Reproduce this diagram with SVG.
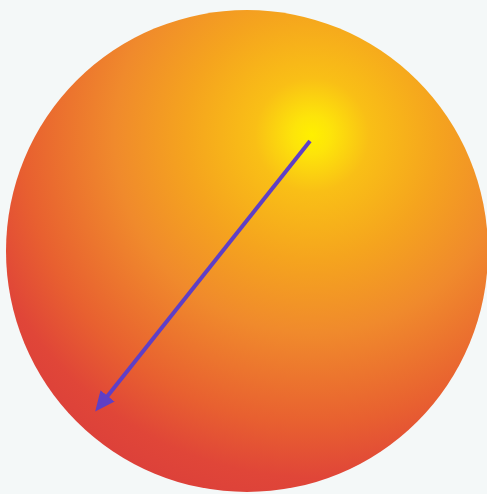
<svg xmlns="http://www.w3.org/2000/svg" width="487" height="494" viewBox="0 0 487 494">
  <defs>
    <radialGradient id="sphere" gradientUnits="userSpaceOnUse" cx="312" cy="135" r="380">
      <stop offset="0" stop-color="#fff000"/>
      <stop offset="0.05" stop-color="#fde40a"/>
      <stop offset="0.15" stop-color="#f9bf16"/>
      <stop offset="0.33" stop-color="#f5a41e"/>
      <stop offset="0.52" stop-color="#f08a2c"/>
      <stop offset="0.76" stop-color="#e86030"/>
      <stop offset="0.9" stop-color="#e04638"/>
      <stop offset="1" stop-color="#dc403a"/>
    </radialGradient>
    <marker id="head" markerUnits="userSpaceOnUse" markerWidth="22" markerHeight="18" viewBox="0 0 22 18" refX="9" refY="9" orient="auto">
      <path d="M0,0 L20,9 L0,18 z" fill="#5f3fc6"/>
    </marker>
  </defs>
  <style>
    .vec { stroke: #5f3fc6; stroke-width: 4; fill: none; }
  </style>
  <rect width="487" height="494" fill="#f4f8f8"/>
  <g id="sphere-node">
    <circle cx="247" cy="251" r="241" fill="url(#sphere)"/>
  </g>
  <g id="connectors">
    <line class="vec" x1="310" y1="141" x2="102" y2="403" marker-end="url(#head)"/>
  </g>
</svg>
